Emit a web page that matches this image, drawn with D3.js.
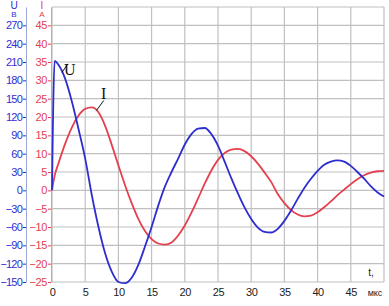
<!DOCTYPE html>
<html lang="ru">
<head>
  <meta charset="UTF-8">
  <title>U, I</title>
  <style>
      body { margin: 0; background: #fff; }
      .grid line { stroke: #c0c0c0; stroke-width: 1.2; }
      .tick text { font: 11px "Liberation Sans", Arial, sans-serif; letter-spacing: -0.4px; }
      .u-axis .tick text { letter-spacing: -0.8px; }
      .lbl { font: 16px "Liberation Serif", "DejaVu Serif", serif; fill: #111; }
  </style>
</head>
<body>
<div id="chart"></div>
<script src="https://d3js.org/d3.v7.min.js"></script>
<script>
  // time, microseconds
  const t = [0, 0.4, 1, 2, 3, 4, 5, 6, 7, 8, 9, 10, 11, 12, 13, 14, 15, 16, 17, 18, 19, 20,
    21, 22, 23, 24, 25, 26, 27, 28, 29, 30, 31, 32, 33, 34, 35, 36, 37, 38, 39, 40,
    41, 42, 43, 44, 45, 46, 47, 48, 49, 50];
  // voltage U, V
  const uVals = [0, 212, 205, 182, 145, 100, 52, -8, -60, -103, -133, -150, -152, -143, -122, -92,
    -60, -25, 6, 30, 52, 75, 92, 101, 102, 92, 73, 47, 20, -5, -28, -47, -61, -68, -69, -63,
    -50, -33, -14, 4, 19, 32, 42, 47, 49, 47, 40, 30, 19, 7, -3, -10];
  // current I, A
  const iVals = [0, 4, 7.5, 12.8, 17.2, 20.4, 22.2, 22.6, 21.3, 17.6, 12.4, 6.8, 1.4, -3.5, -7.8,
    -11.1, -13.3, -14.5, -14.8, -14.2, -12.3, -9.6, -6.1, -2.2, 1.8, 5.4, 8.3, 10.2, 11.1, 11.3,
    10.7, 9.3, 7.3, 4.9, 2.3, -1.0, -3.5, -5.4, -6.6, -7.1, -6.9, -6.0, -4.6, -3.0, -1.3, 0.2,
    1.7, 3.0, 4.1, 4.8, 5.2, 5.3];
  const uTicks = [-150, -120, -90, -60, -30, 0, 30, 60, 90, 120, 150, 180, 210, 240, 270];
  const iTicks = [-25, -20, -15, -10, -5, 0, 5, 10, 15, 20, 25, 30, 35, 40, 45];
  const tTicks = [0, 5, 10, 15, 20, 25, 30, 35, 40, 45];

  const W = 389, H = 306;
  const blue = "#2e2ed0", red = "#e4404e";

  const svg = d3.select("#chart").append("svg")
    .attr("width", W)
    .attr("height", H);

  const x = d3.scaleLinear().domain([0, 50]).range([52, 384]);
  const yU = d3.scaleLinear().domain([-150, 300]).range([282, 7]);
  const yI = d3.scaleLinear().domain([-25, 50]).range([282, 7]);

  // grid
  const grid = svg.append("g").attr("class", "grid");
  grid.selectAll(".h")
    .data(uTicks.concat([300]))
    .enter().append("line")
    .attr("x1", x(0)).attr("x2", x(50))
    .attr("y1", d => yU(d)).attr("y2", d => yU(d));
  grid.selectAll(".v")
    .data(tTicks.concat([50]))
    .enter().append("line")
    .attr("x1", d => x(d)).attr("x2", d => x(d))
    .attr("y1", yU(-150)).attr("y2", yU(300));

  // U axis (blue)
  const axU = svg.append("g")
    .attr("class", "u-axis")
    .attr("transform", "translate(26,0)")
    .call(d3.axisLeft(yU).tickValues(uTicks).tickSize(3).tickPadding(1).tickSizeOuter(0));
  axU.select(".domain").attr("stroke", "#9aa6d8");
  axU.selectAll(".tick line").attr("stroke", blue);
  axU.selectAll(".tick text").attr("fill", blue);

  // I axis (red)
  const axI = svg.append("g")
    .attr("transform", `translate(${x(0) - 1},0)`)
    .call(d3.axisLeft(yI).tickValues(iTicks).tickSize(3).tickPadding(1).tickSizeOuter(0));
  axI.select(".domain").attr("stroke", "#b0b0b0");
  axI.selectAll(".tick line").attr("stroke", red);
  axI.selectAll(".tick text").attr("fill", red);

  // t axis
  const axT = svg.append("g")
    .attr("transform", `translate(0,${yU(-150)})`)
    .call(d3.axisBottom(x).tickValues(tTicks).tickSize(0).tickPadding(6));
  axT.select(".domain").remove();
  axT.selectAll(".tick text").attr("fill", "#222");

  // axis titles
  const small = "10px 'Liberation Sans', Arial, sans-serif";
  const tiny = "8px 'Liberation Sans', Arial, sans-serif";
  svg.append("text").attr("x", 14).attr("y", 9).attr("text-anchor", "middle")
    .style("font", small).attr("fill", blue).text("U");
  svg.append("text").attr("x", 14).attr("y", 17).attr("text-anchor", "middle")
    .style("font", tiny).attr("fill", blue).text("В");
  svg.append("text").attr("x", 42).attr("y", 9).attr("text-anchor", "middle")
    .style("font", small).attr("fill", red).text("I");
  svg.append("text").attr("x", 42).attr("y", 17).attr("text-anchor", "middle")
    .style("font", tiny).attr("fill", red).text("А");
  svg.append("text").attr("x", 371).attr("y", 276).attr("text-anchor", "middle")
    .style("font", small).attr("fill", "#222").text("t,");
  svg.append("text").attr("x", 375).attr("y", 296).attr("text-anchor", "middle")
    .style("font", "9px 'Liberation Sans', Arial, sans-serif").attr("fill", "#222").text("мкс");

  // curves
  const lineU = d3.line().x((d, i) => x(t[i])).y(d => yU(d)).curve(d3.curveMonotoneX);
  const lineI = d3.line().x((d, i) => x(t[i])).y(d => yI(d)).curve(d3.curveMonotoneX);

  svg.append("path").datum(iVals)
    .attr("fill", "none").attr("stroke", red).attr("stroke-width", 1.8)
    .attr("d", lineI);
  svg.append("path").datum(uVals)
    .attr("fill", "none").attr("stroke", blue).attr("stroke-width", 1.8)
    .attr("d", lineU);

  // curve labels with leader lines
  svg.append("line").attr("x1", x(1.5)).attr("y1", yU(193)).attr("x2", x(2.4)).attr("y2", yU(207))
    .attr("stroke", "#111").attr("stroke-width", 1);
  svg.append("text").attr("class", "lbl").attr("x", 64).attr("y", 75).text("U");
  svg.append("line").attr("x1", x(6.7)).attr("y1", yI(21.8)).attr("x2", x(7.8)).attr("y2", yI(24.5))
    .attr("stroke", "#111").attr("stroke-width", 1);
  svg.append("text").attr("class", "lbl").attr("x", 101).attr("y", 99).text("I");
</script>
</body>
</html>
